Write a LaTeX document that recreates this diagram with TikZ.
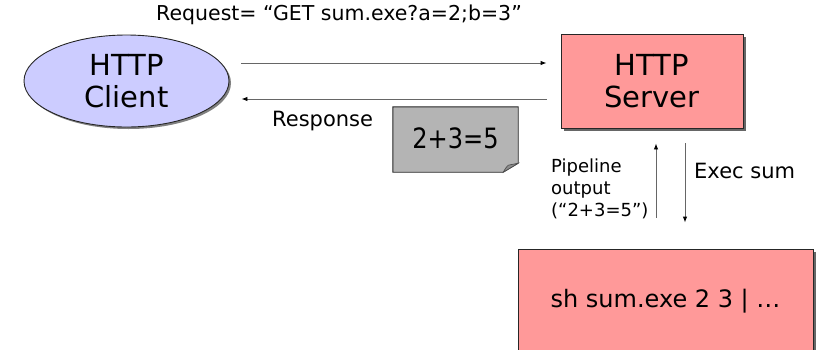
\documentclass[tikz,border=0pt]{standalone}
\usepackage{fontspec}
\setmainfont{DejaVu Sans}
\usetikzlibrary{arrows.meta,shadows,shapes.geometric}

\definecolor{srvred}{HTML}{FF9999}
\definecolor{cliblue}{HTML}{CCCCFF}
\definecolor{notegray}{HTML}{B4B4B4}
\definecolor{foldgray}{HTML}{8C8C8C}

\begin{document}
\begin{tikzpicture}[x=1pt,y=-1pt,
  flow/.style={draw=black!60, line width=0.9pt,
    -{Latex[length=6pt,width=4.5pt,black]}},
  shade3/.style={drop shadow={shadow xshift=3pt, shadow yshift=-3pt,
    fill=black!60, opacity=1}},
  procbox/.style={rectangle, draw=black!85, line width=0.9pt, fill=srvred,
    shade3, inner sep=0pt, align=center},
  lbl/.style={inner sep=0pt, anchor=base west},
  big/.style={font=\fontsize{29}{32}\selectfont},
]
\useasboundingbox (0,0) rectangle (820,349);
\clip (0,0) rectangle (820,349);

% client and server
\node[ellipse, draw=black!85, line width=0.9pt, fill=cliblue,
      drop shadow={shadow xshift=2pt, shadow yshift=-2pt, fill=black!50, opacity=1},
      minimum width=205pt, minimum height=92pt, inner sep=0pt,
      align=center, big] (client) at (126.5,81) {HTTP\\Client};
\node[procbox, minimum width=182pt, minimum height=94pt, big]
      (server) at (652,81) {HTTP\\Server};

% shell process
\node[procbox, minimum width=295pt, minimum height=104pt,
      font=\fontsize{24}{28}\selectfont]
      (shell) at (665.5,301) {sh sum.exe 2 3 | …};

% response document with a folded corner
\node[inner sep=0pt, minimum width=125pt, minimum height=65pt] (note) at (455.5,139.5) {};
\fill[notegray, draw=black!85, line width=0.9pt]
  (note.north west) -- (note.north east) -- ([yshift=9pt]note.south east)
  -- ([xshift=-15pt]note.south east) -- (note.south west) -- cycle;
\fill[foldgray, draw=black!70, line width=0.6pt]
  ([xshift=-15pt]note.south east) .. controls ([xshift=-12pt,yshift=5pt]note.south east)
  .. ([xshift=-10pt,yshift=7pt]note.south east) -- ([yshift=9pt]note.south east)
  -- cycle;
\node[inner sep=0pt, font=\fontsize{28}{32}\selectfont] (sum) at ([yshift=1pt]note.center)
  {\scalebox{0.86}[1]{2+3=5}};

% labels
\node[lbl, font=\fontsize{20.5}{24}\selectfont] (request) at (156,20)
  {Request= “GET sum.exe?a=2;b=3”};
\node[lbl, font=\fontsize{21}{25}\selectfont] (response) at (272,126) {Response};
\node[inner sep=0pt, anchor=north west, align=left,
      font=\fontsize{18}{22}\selectfont] (pipe) at (551,158.5)
  {Pipeline\\output\\(“2+3=5”)};
\node[lbl, font=\fontsize{21}{25}\selectfont] (exec) at (694,178) {Exec sum};

% connectors
\draw[flow, shorten <=12pt, shorten >=14pt]
  ([yshift=18pt]client.east) -- ([yshift=18pt]server.west);
\draw[flow, shorten <=14pt, shorten >=12pt]
  ([yshift=-18pt]server.west) -- ([yshift=-18pt]client.east);
\draw[flow, shorten <=31pt, shorten >=15pt]
  ([xshift=4pt]server.south |- shell.north) -- ([xshift=4pt]server.south);
\draw[flow, shorten <=15pt, shorten >=26pt]
  ([xshift=33pt]server.south) -- ([xshift=33pt]server.south |- shell.north);
\end{tikzpicture}
\end{document}
